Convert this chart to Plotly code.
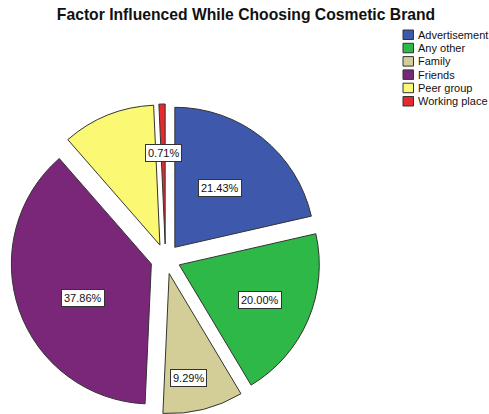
import math
import plotly.graph_objects as go

# Survey responses: factor influencing choice of cosmetic brand (n = 140)
factors = ["Advertisement", "Any other", "Family", "Friends", "Peer group", "Working place"]
responses = [30, 28, 13, 53, 15, 1]
colors = ["#3e58ac", "#2eb848", "#d3ce97", "#7b2779", "#fbf873", "#e52a2d"]

# which slices carry a percentage box, where it sits (fraction of radius from
# the pie centre) and a small angular nudge away from the slice bisector
show_label = [True, True, True, True, False, True]
label_radius = [0.64, 0.735, 0.865, 0.65, 0.70, 0.757]
label_nudge_deg = [-1.0, 0.4, 3.4, -6.0, 0.0, 0.0]

W, H = 489, 414
PULL = 0.107
dom_x = [10.5 / W, 320.5 / W]
dom_y = [0.0, 1 - 104 / H]

total = sum(responses)
percents = [v / total * 100 for v in responses]

fig = go.Figure(go.Pie(
    labels=factors,
    values=responses,
    sort=False,
    direction="clockwise",
    rotation=0,
    pull=[PULL] * len(responses),
    marker=dict(colors=colors, line=dict(color="#333333", width=1)),
    textinfo="none",
    hoverinfo="label+percent",
    domain=dict(x=dom_x, y=dom_y),
    showlegend=False,
))

# geometry of the pie in pixels, following plotly's own pie sizing
box_w = (dom_x[1] - dom_x[0]) * W
box_h = (dom_y[1] - dom_y[0]) * H
r = min(box_w, box_h) / (2 * (1 + PULL))
cx = (dom_x[0] + dom_x[1]) / 2 * W
cy = (1 - (dom_y[0] + dom_y[1]) / 2) * H

annotations = []
cum = 0.0
for pct, show, frac, nudge in zip(percents, show_label, label_radius, label_nudge_deg):
    mid = (cum + pct / 2) / 100 * 2 * math.pi + math.radians(nudge)
    cum += pct
    if not show:
        continue
    px = cx + frac * r * math.sin(mid)
    py = cy - frac * r * math.cos(mid)
    annotations.append(dict(
        x=px / W, y=1 - py / H, xref="paper", yref="paper",
        xanchor="center", yanchor="middle",
        text=f"{pct:.2f}%", showarrow=False,
        font=dict(family="Liberation Sans, Arial", size=11, color="#111111"),
        bgcolor="white", bordercolor="#333333", borderwidth=1, borderpad=2,
    ))

# legend drawn as small swatches with labels
shapes = []
leg_x0, leg_y0, row_h, sw = 403, 30, 13.3, 10.5
for i, (name, col) in enumerate(zip(factors, colors)):
    top = leg_y0 + i * row_h
    shapes.append(dict(
        type="rect", xref="paper", yref="paper",
        x0=leg_x0 / W, x1=(leg_x0 + sw) / W,
        y0=1 - (top + sw - 1) / H, y1=1 - top / H,
        fillcolor=col, line=dict(color="#333333", width=1),
    ))
    annotations.append(dict(
        x=(leg_x0 + sw + 2) / W, y=1 - (top + (sw - 1) / 2) / H,
        xref="paper", yref="paper", xanchor="left", yanchor="middle",
        text=name, showarrow=False,
        font=dict(family="Liberation Sans, Arial", size=11, color="#111111"),
    ))

fig.update_layout(
    width=W, height=H,
    margin=dict(l=0, r=0, t=0, b=0),
    paper_bgcolor="white", plot_bgcolor="white",
    title=dict(
        text="<b>Factor Influenced While Choosing Cosmetic Brand</b>",
        x=246 / W, xanchor="center", y=1 - 15 / H, yanchor="middle",
        font=dict(family="Liberation Sans, Arial", size=15.7, color="#111111"),
    ),
    annotations=annotations,
    shapes=shapes,
)

fig.write_html("out.html")
